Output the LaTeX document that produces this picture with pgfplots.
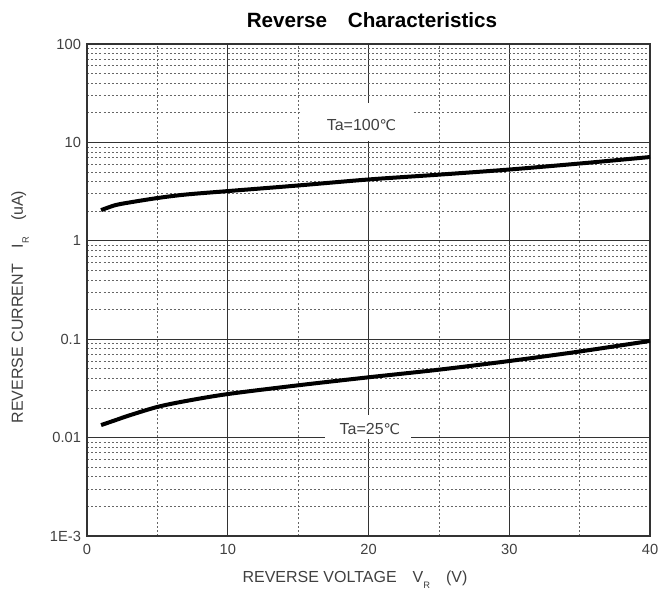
\documentclass[border=0pt]{standalone}
\usepackage{fontspec}
\setmainfont{Liberation Sans}
\newfontfamily\symfont{DejaVu Sans}
\usepackage{pgfplots}
\pgfplotsset{compat=1.18}
\definecolor{txt}{HTML}{404040}

\begin{document}
\begin{tikzpicture}[x=0.75pt,y=0.75pt]
\useasboundingbox (-87,-55) rectangle (572,536);
\begin{axis}[
    at={(0,0)}, anchor=south west,
    scale only axis, width=422.25pt, height=369pt,
    xmin=0, xmax=40, ymode=log, ymin=1e-3, ymax=100,
    xtick={0,10,20,30,40}, xticklabels={0,10,20,30,40},
    minor xtick={5,15,25,35},
    ytick={1e-3,0.01,0.1,1,10,100},
    yticklabels={1E-3,0.01,0.1,1,10,100},
    major tick length=0pt, minor tick length=0pt,
    grid=both,
    major grid style={black!80, line width=0.6pt},
    minor grid style={black!60, line width=0.55pt, dash pattern=on 1.5pt off 1.6pt},
    axis line style={black!80, line width=0.8pt},
    ticklabel style={font=\fontsize{11}{13}\selectfont, text=txt},
    xticklabel style={yshift=-3pt},
    yticklabel style={xshift=-1pt},
  ]
  % label boxes over the grid
  \fill[white] (axis cs:15.1,10.4) rectangle (axis cs:23.1,25);
  \node[font=\fontsize{12}{14}\selectfont, text=txt] at (axis cs:19.5,15) {Ta=100{\symfont\fontsize{11}{13}\selectfont ℃}};
  \fill[white] (axis cs:16.9,0.0097) rectangle (axis cs:23.0,0.017);
  \node[font=\fontsize{12}{14}\selectfont, text=txt] at (axis cs:20.1,0.0121) {Ta=25{\symfont\fontsize{11}{13}\selectfont ℃}};
  % Ta = 100 C
  \addplot[black, line width=3pt, smooth] coordinates {
    (1,2.05) (2,2.3) (3,2.45) (5,2.72) (7,2.95) (10,3.2) (15,3.65)
    (20,4.2) (25,4.7) (30,5.3) (35,6.1) (40,7.1)};
  % Ta = 25 C
  \addplot[black, line width=3pt, smooth] coordinates {
    (1,0.0134) (2,0.015) (3,0.0168) (5,0.0205) (7,0.0235) (10,0.0277)
    (15,0.034) (20,0.041) (25,0.049) (30,0.060) (35,0.075) (40,0.096)};
\end{axis}
\node[font=\fontsize{15.5}{18}\selectfont\bfseries] at (285,516) {Reverse\quad Characteristics};
\node[font=\fontsize{12}{14}\selectfont, text=txt] at (268,-44)
  {REVERSE VOLTAGE\quad V\raisebox{-0.7ex}{\scriptsize R}\quad (V)};
\node[font=\fontsize{12}{14}\selectfont, text=txt, rotate=90] at (-67,229)
  {REVERSE CURRENT\quad I\raisebox{-0.7ex}{\scriptsize R}\quad (uA)};
\end{tikzpicture}
\end{document}
